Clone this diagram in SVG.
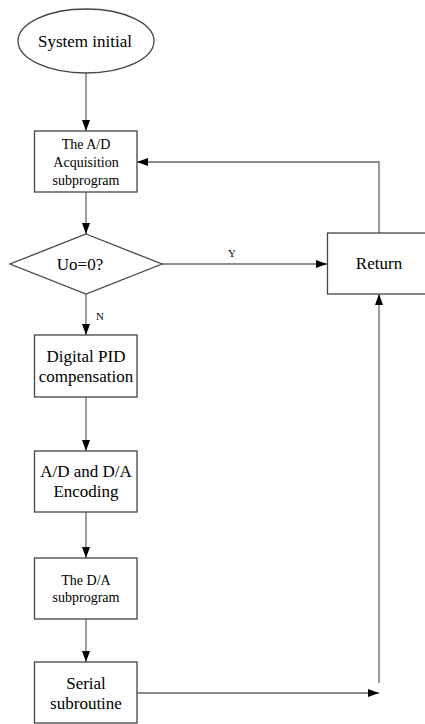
<svg xmlns="http://www.w3.org/2000/svg" width="425" height="724" viewBox="0 0 425 724">
<style>
.shape{fill:#fff;stroke:#444;stroke-width:1.3}
.conn{fill:none;stroke:#666;stroke-width:1.3}
text{font-family:"Liberation Serif","Times New Roman",serif;fill:#000;text-anchor:middle}
.big{font-size:17px}
.mid{font-size:14px}
.sm{font-size:11px}
</style>
<defs>
<marker id="arr" viewBox="0 0 11 8" refX="11" refY="4" markerWidth="11" markerHeight="8" markerUnits="userSpaceOnUse" orient="auto">
<path d="M0,0 L11,4 L0,8 z" fill="#000"/>
</marker>
</defs>
<rect width="425" height="724" fill="#fff"/>
<g id="connectors">
<path class="conn" d="M86,73 V131" marker-end="url(#arr)"/>
<path class="conn" d="M86,192 V234" marker-end="url(#arr)"/>
<path class="conn" d="M162,264 H327" marker-end="url(#arr)"/>
<path class="conn" d="M379,233 V162 H137" marker-end="url(#arr)"/>
<path class="conn" d="M86,294 V335" marker-end="url(#arr)"/>
<path class="conn" d="M86,397 V451" marker-end="url(#arr)"/>
<path class="conn" d="M86,512 V558" marker-end="url(#arr)"/>
<path class="conn" d="M86,619 V662" marker-end="url(#arr)"/>
<path class="conn" d="M137,693 H379" marker-end="url(#arr)"/>
<path class="conn" d="M379,683 V294" marker-end="url(#arr)"/>
<text class="sm" x="232" y="257">Y</text>
<text class="sm" x="100" y="320">N</text>
</g>
<g id="start">
<ellipse class="shape" cx="86" cy="41" rx="68" ry="32"/>
<text class="big" x="85" y="47">System initial</text>
</g>
<g id="ad-acq">
<rect class="shape" x="34.5" y="131" width="102.5" height="61"/>
<text class="mid" x="86" y="149">The A/D</text>
<text class="mid" x="86" y="167">Acquisition</text>
<text class="mid" x="86" y="185">subprogram</text>
</g>
<g id="decision">
<polygon class="shape" points="86,234 162,264 86,294 10,264"/>
<text class="big" x="80" y="270">Uo=0?</text>
</g>
<g id="return">
<rect class="shape" x="327.5" y="233" width="102" height="61"/>
<text class="big" x="379" y="269">Return</text>
</g>
<g id="pid">
<rect class="shape" x="34.5" y="335" width="102.5" height="62"/>
<text class="big" x="86" y="362">Digital PID</text>
<text class="big" x="86" y="382">compensation</text>
</g>
<g id="encoding">
<rect class="shape" x="34.5" y="451" width="102.5" height="61"/>
<text class="big" x="86" y="477">A/D and D/A</text>
<text class="big" x="86" y="497">Encoding</text>
</g>
<g id="da-sub">
<rect class="shape" x="34.5" y="558" width="102.5" height="61"/>
<text class="mid" x="86" y="585">The D/A</text>
<text class="mid" x="86" y="602">subprogram</text>
</g>
<g id="serial">
<rect class="shape" x="34.5" y="662" width="102.5" height="61"/>
<text class="big" x="86" y="689">Serial</text>
<text class="big" x="86" y="709">subroutine</text>
</g>
</svg>
